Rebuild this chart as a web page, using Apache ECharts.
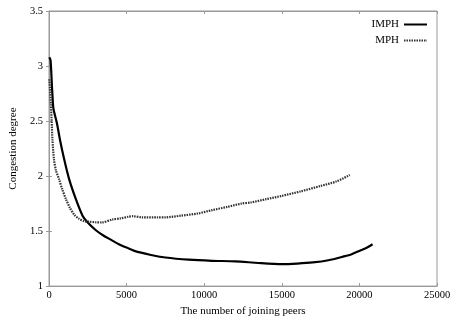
<!DOCTYPE html>
<html>
<head>
<meta charset="utf-8">
<script src="https://cdn.jsdelivr.net/npm/echarts@6/dist/echarts.min.js"></script>
<style>
  html, body { margin: 0; padding: 0; background: #fff; }
  #chart { width: 460px; height: 322px; }
</style>
</head>
<body>
<div id="chart"></div>
<script>
// Congestion degree against the number of joining peers, two schemes.
var seriesNames = ['IMPH', 'MPH'];

var imphPeers = [20, 100, 190, 256, 300, 510, 705, 980, 1300, 1730, 2160, 2480, 3000, 3500, 4000, 4500, 5000, 5500, 6500, 7500, 9000, 10500, 12000, 13500, 15000, 16000, 17000, 18000, 19000, 19500, 20000, 20500, 20850];
var imphDegree = [3.08, 3.05, 2.81, 2.65, 2.60, 2.48, 2.33, 2.15, 1.97, 1.79, 1.64, 1.58, 1.51, 1.46, 1.42, 1.38, 1.35, 1.32, 1.285, 1.26, 1.24, 1.23, 1.225, 1.21, 1.20, 1.205, 1.215, 1.235, 1.27, 1.29, 1.32, 1.35, 1.38];

var mphPeers = [20, 60, 120, 170, 220, 320, 450, 650, 850, 1090, 1350, 1620, 1900, 2260, 2600, 3000, 3400, 4080, 4600, 5100, 5400, 6000, 7000, 7500, 8500, 9600, 10500, 11500, 12400, 13000, 14000, 15000, 16200, 17500, 18500, 19380];
var mphDegree = [2.88, 2.80, 2.65, 2.50, 2.33, 2.15, 2.05, 1.97, 1.88, 1.79, 1.71, 1.65, 1.615, 1.59, 1.585, 1.58, 1.578, 1.605, 1.615, 1.63, 1.635, 1.625, 1.625, 1.625, 1.64, 1.66, 1.69, 1.72, 1.75, 1.76, 1.79, 1.82, 1.86, 1.91, 1.95, 2.01];

var xTitle = 'The number of joining peers';
var yTitle = 'Congestion degree';

function pairs(xs, ys) {
  return xs.map(function (x, i) { return [x, ys[i]]; });
}

var serif = '"Liberation Serif", "DejaVu Serif", serif';
var frameColor = '#999';

var chart = echarts.init(document.getElementById('chart'), null, { renderer: 'canvas' });

var xBase = { type: 'value', min: 0, max: 25000, interval: 5000, splitLine: { show: false } };
var yBase = { type: 'value', min: 1, max: 3.5, interval: 0.5, splitLine: { show: false } };

chart.setOption({
  animation: false,
  backgroundColor: '#fff',
  grid: { left: 47, right: 23, top: 11, bottom: 35, show: true, borderColor: frameColor, borderWidth: 1 },
  legend: {
    orient: 'vertical',
    right: 27,
    top: 14,
    align: 'right',
    itemWidth: 23,
    itemHeight: 8,
    itemGap: 5,
    itemStyle: { opacity: 0 },
    textStyle: { fontFamily: serif, fontSize: 11, color: '#000', padding: [0, 0, 0, 0] },
    data: seriesNames
  },
  xAxis: [
    Object.assign({}, xBase, {
      position: 'bottom',
      name: xTitle,
      nameLocation: 'middle',
      nameGap: 18,
      nameTextStyle: { fontFamily: serif, fontSize: 11, color: '#000' },
      axisLine: { lineStyle: { color: frameColor } },
      axisTick: { inside: true, length: 3, lineStyle: { color: frameColor } },
      axisLabel: { fontFamily: serif, fontSize: 10.5, color: '#000', margin: 4, formatter: function (v) { return String(v); } }
    }),
    Object.assign({}, xBase, {
      position: 'top',
      axisLine: { lineStyle: { color: frameColor } },
      axisTick: { inside: true, length: 3, lineStyle: { color: frameColor } },
      axisLabel: { show: false }
    })
  ],
  yAxis: [
    Object.assign({}, yBase, {
      position: 'left',
      name: yTitle,
      nameLocation: 'middle',
      nameGap: 30,
      nameRotate: 90,
      nameTextStyle: { fontFamily: serif, fontSize: 11, color: '#000' },
      axisLine: { show: true, lineStyle: { color: frameColor } },
      axisTick: { show: true, inside: true, length: 3, lineStyle: { color: frameColor } },
      axisLabel: { fontFamily: serif, fontSize: 10.5, color: '#000', margin: 6 }
    }),
    Object.assign({}, yBase, {
      position: 'right',
      axisLine: { show: true, lineStyle: { color: frameColor } },
      axisTick: { show: true, inside: true, length: 3, lineStyle: { color: frameColor } },
      axisLabel: { show: false }
    })
  ],
  series: [
    {
      name: seriesNames[0],
      type: 'line',
      xAxisIndex: 0,
      yAxisIndex: 0,
      data: pairs(imphPeers, imphDegree),
      symbol: 'none',
      smooth: 0.25,
      lineStyle: { color: '#000', width: 2.2, type: 'solid' },
      itemStyle: { color: '#000' }
    },
    {
      name: seriesNames[1],
      type: 'line',
      xAxisIndex: 0,
      yAxisIndex: 0,
      data: pairs(mphPeers, mphDegree),
      symbol: 'none',
      smooth: 0.25,
      lineStyle: { color: '#333', width: 2.2, type: [1.5, 1] },
      itemStyle: { color: '#333' }
    }
  ]
});
</script>
</body>
</html>
